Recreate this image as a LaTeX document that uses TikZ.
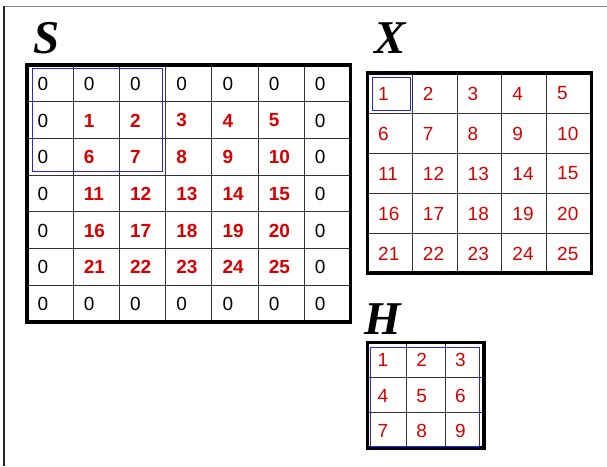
\documentclass[tikz,border=0pt]{standalone}
\usepackage{fontspec}
\setmainfont{Liberation Sans}
\newfontfamily\titlefont{Liberation Serif}
\usetikzlibrary{positioning}

\definecolor{numred}{RGB}{215,0,0}
\definecolor{winblue}{RGB}{35,35,255}

\begin{document}
\begin{tikzpicture}[x=1pt,y=-1pt,
    border/.style={line width=3.6pt, line cap=rect},
    cellline/.style={line width=0.9pt, black!80},
    win/.style={draw=winblue, line width=1pt},
    zero/.style={anchor=west, inner sep=0pt, font=\fontsize{19}{19}\selectfont},
    val/.style={anchor=west, inner sep=0pt, text=numred, font=\fontsize{19}{19}\selectfont},
    bval/.style={anchor=west, inner sep=0pt, text=numred, font=\fontsize{19}{19}\selectfont\bfseries},
    title/.style={anchor=base west, inner sep=0pt, font=\titlefont\fontsize{47}{47}\selectfont\bfseries\itshape}
]
\useasboundingbox (0,0) rectangle (607,466);
% page frame
\draw[black!45, line width=1pt] (4,6) -- (607,6);
\draw[black!85, line width=1.3pt] (4,6) -- (4,466);

% titles
\node[title] (lblS) at (33,53) {S};
\node[title] (lblX) at (374,53) {X};
\node[title] (lblH) at (364,334) {H};

% S: padded input, 7x7
\foreach \i in {1,...,6} {
  \draw[cellline] ({27+\i*46.21},65) -- ({27+\i*46.21},321.7);
  \draw[cellline] (27,{65+\i*36.67}) -- (350.5,{65+\i*36.67});
}
\draw[border] (27,65) rectangle (350.5,321.7);
\foreach \r in {0,...,6} {
  \foreach \c in {0,...,6} {
    \pgfmathtruncatemacro\isin{(\r>0)*(\r<6)*(\c>0)*(\c<6)}
    \pgfmathtruncatemacro\v{(\r-1)*5+\c}
    \ifnum\isin=1
      \node[bval] (s-\r-\c) at ({27+\c*46.21+10.5},{65+\r*36.67+18.8}) {\v};
    \else
      \node[zero] (s-\r-\c) at ({27+\c*46.21+10.5},{65+\r*36.67+18.8}) {0};
    \fi
  }
}
\draw[win] (32.3,68.3) rectangle (162.3,171.7);

% X: input, 5x5
\foreach \i in {1,...,4} {
  \draw[cellline] ({367.5+\i*44.76},73) -- ({367.5+\i*44.76},273);
  \draw[cellline] (367.5,{73+\i*40}) -- (591.3,{73+\i*40});
}
\draw[border] (367.5,73) rectangle (591.3,273);
\foreach \r in {0,...,4} {
  \foreach \c in {0,...,4} {
    \pgfmathtruncatemacro\v{\r*5+\c+1}
    \node[val] (x-\r-\c) at ({367.5+\c*44.76+10.5},{73+\r*40+20.5}) {\v};
  }
}
\draw[win] (372.3,77.3) rectangle (410.7,110.7);

% H: kernel, 3x3
\foreach \i in {1,2} {
  \draw[cellline] ({367.5+\i*38.77},342.3) -- ({367.5+\i*38.77},448.2);
  \draw[cellline] (367.5,{342.3+\i*35.3}) -- (483.8,{342.3+\i*35.3});
}
\draw[border] (367.5,342.3) rectangle (483.8,448.2);
\foreach \r in {0,1,2} {
  \foreach \c in {0,1,2} {
    \pgfmathtruncatemacro\v{\r*3+\c+1}
    \node[val] (h-\r-\c) at ({367.5+\c*38.77+10},{342.3+\r*35.3+18}) {\v};
  }
}
\draw[win] (370.7,347.3) rectangle (479,446);
\end{tikzpicture}
\end{document}
